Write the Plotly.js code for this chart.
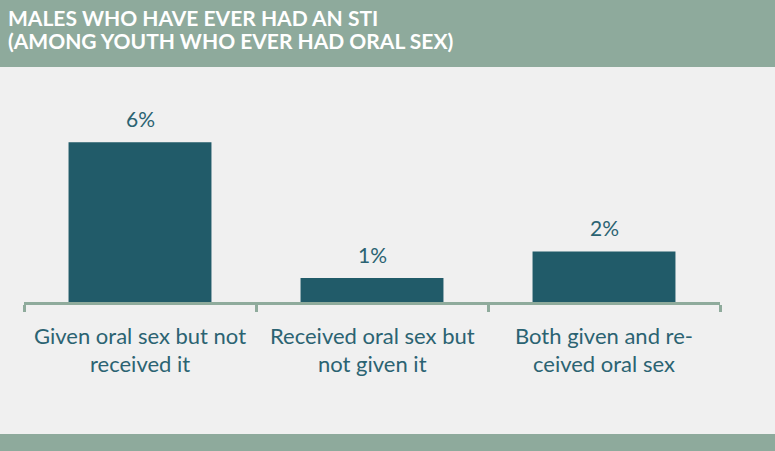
<!DOCTYPE html>
<html><head><meta charset="utf-8">
<script src="https://cdn.plot.ly/plotly-3.0.1.min.js"></script>
<style>html,body{margin:0;padding:0;background:#f0f0f0;}#chart{width:775px;height:451px;}</style>
</head><body><div id="chart"></div>
<script>
const categories = ["given", "received", "both"];
const values = [6.0, 0.9, 1.9];
const valueLabels = ["6%", "1%", "2%"];
const labelLine1 = ["Given oral sex but not", "Received oral sex but", "Both given and re-"];
const labelLine2 = ["received it", "not given it", "ceived oral sex"];
const titleLines = ["MALES WHO HAVE EVER HAD AN STI", "(AMONG YOUTH WHO EVER HAD ORAL SEX)"];

const textColor = "#2b6372";
const font = "Lato, 'Open Sans', sans-serif";

const annotations = [];
categories.forEach((c, i) => {
  annotations.push({x: c, xref: "x", y: 0, yref: "y", yanchor: "middle", yshift: -33, text: labelLine1[i], showarrow: false, font: {family: font, size: 22, color: textColor}});
  annotations.push({x: c, xref: "x", y: 0, yref: "y", yanchor: "middle", yshift: -61, text: labelLine2[i], showarrow: false, font: {family: font, size: 22, color: textColor}});
  annotations.push({x: c, xref: "x", y: values[i], yref: "y", yanchor: "middle", yshift: 24, text: valueLabels[i], showarrow: false, font: {family: font, size: 21, color: textColor}});
});
titleLines.forEach((t, i) => {
  annotations.push({x: 0, xref: "paper", xanchor: "left", xshift: -18, y: 1, yref: "paper", yanchor: "middle", yshift: 72 - i * 23, text: "<b>" + t + "</b>", showarrow: false, font: {family: font, size: 21, color: "#ffffff"}});
});

Plotly.newPlot("chart", [{
  type: "bar",
  x: categories,
  y: values,
  marker: {color: "#215b69"},
  hoverinfo: "none"
}], {
  width: 775, height: 451,
  margin: {l: 24, r: 55, t: 89, b: 149},
  paper_bgcolor: "#f0f0f0",
  plot_bgcolor: "#f0f0f0",
  bargap: 0.384,
  showlegend: false,
  xaxis: {
    type: "category",
    showline: true, linecolor: "#8fab9c", linewidth: 3,
    ticks: "outside", tickson: "boundaries", ticklen: 7, tickwidth: 3, tickcolor: "#8fab9c",
    showticklabels: false, showgrid: false, zeroline: false, fixedrange: true
  },
  yaxis: {range: [0, 8], visible: false, showgrid: false, zeroline: false, fixedrange: true},
  shapes: [
    {type: "rect", xref: "paper", yref: "paper", xsizemode: "pixel", ysizemode: "pixel", xanchor: 0, yanchor: 1, x0: -40, x1: 800, y0: 22, y1: 89, fillcolor: "#8eaa9c", line: {width: 0}, layer: "below"},
    {type: "rect", xref: "paper", yref: "paper", xsizemode: "pixel", ysizemode: "pixel", xanchor: 0, yanchor: 0, x0: -40, x1: 800, y0: -132, y1: -160, fillcolor: "#8eaa9c", line: {width: 0}, layer: "below"}
  ],
  annotations: annotations
}, {displayModeBar: false, staticPlot: true});
</script></body></html>
